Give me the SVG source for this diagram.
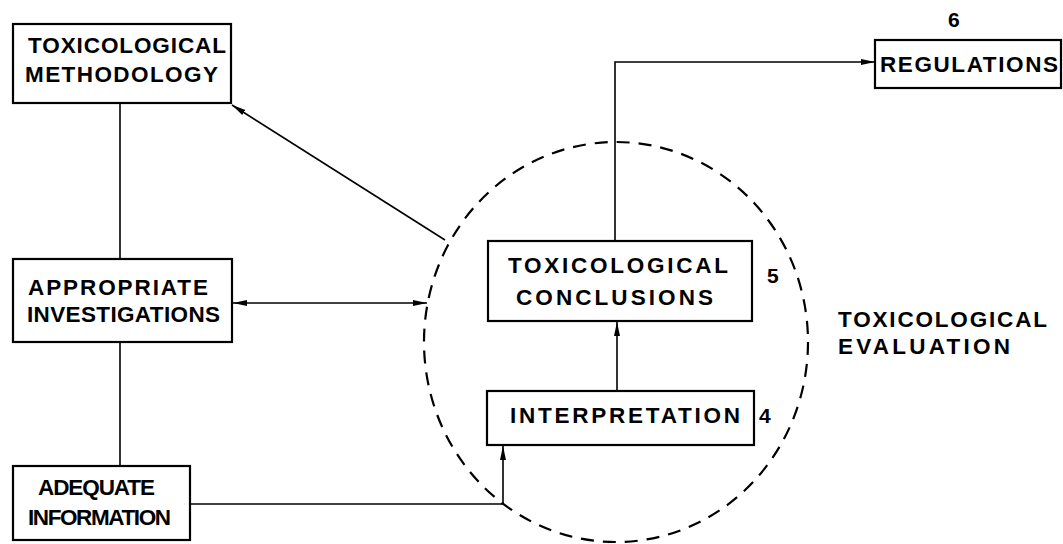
<svg xmlns="http://www.w3.org/2000/svg" width="1063" height="544" viewBox="0 0 1063 544">
  <style>
    .box { fill: #fff; stroke: #000; stroke-width: 2.2; }
    .lbl { font-family: "Liberation Sans", Arial, sans-serif; font-weight: bold; font-size: 22.5px; fill: #000; }
    .num { font-family: "Liberation Sans", Arial, sans-serif; font-weight: bold; font-size: 21px; fill: #000; }
    .wire { fill: none; stroke: #000; stroke-width: 1.6; }
    .ring { fill: none; stroke: #000; stroke-width: 2.2; stroke-dasharray: 13 9; }
  </style>
  <defs>
    <marker id="arrow" viewBox="0 0 14 8" refX="14" refY="4" markerWidth="14" markerHeight="8" markerUnits="userSpaceOnUse" orient="auto-start-reverse">
      <path d="M0,1 L14,4 L0,7 Z" fill="#000"/>
    </marker>
  </defs>
  <rect width="1063" height="544" fill="#fff"/>

  <!-- evaluation boundary -->
  <ellipse class="ring" cx="616" cy="342" rx="192" ry="200"/>

  <g id="connectors">
    <line class="wire" x1="120" y1="103" x2="120" y2="259"/>
    <line class="wire" x1="120" y1="342" x2="120" y2="466"/>
    <line class="wire" x1="445" y1="240" x2="232" y2="105" marker-end="url(#arrow)"/>
    <line class="wire" x1="233" y1="303" x2="427" y2="303" marker-start="url(#arrow)" marker-end="url(#arrow)"/>
    <polyline class="wire" points="190,504 503,504 503,446" marker-end="url(#arrow)"/>
    <line class="wire" x1="617" y1="391" x2="617" y2="322" marker-end="url(#arrow)"/>
    <polyline class="wire" points="615,241 615,62 875,62" marker-end="url(#arrow)"/>
  </g>

  <g id="methodology">
    <rect class="box" x="13" y="24" width="218" height="79"/>
    <text class="lbl" x="28" y="53" textLength="198" lengthAdjust="spacing">TOXICOLOGICAL</text>
    <text class="lbl" x="25" y="82" textLength="193" lengthAdjust="spacing">METHODOLOGY</text>
  </g>

  <g id="investigations">
    <rect class="box" x="13" y="259" width="219" height="83"/>
    <text class="lbl" x="28" y="295" textLength="180" lengthAdjust="spacing">APPROPRIATE</text>
    <text class="lbl" x="27" y="322" textLength="193" lengthAdjust="spacing">INVESTIGATIONS</text>
  </g>

  <g id="information">
    <rect class="box" x="13" y="466" width="177" height="74"/>
    <text class="lbl" x="38" y="495" textLength="117" lengthAdjust="spacing">ADEQUATE</text>
    <text class="lbl" x="28" y="525" textLength="143" lengthAdjust="spacing">INFORMATION</text>
  </g>

  <g id="conclusions">
    <rect class="box" x="488" y="241" width="264" height="80"/>
    <text class="lbl" x="508" y="273" textLength="220" lengthAdjust="spacing">TOXICOLOGICAL</text>
    <text class="lbl" x="516" y="305" textLength="197" lengthAdjust="spacing">CONCLUSIONS</text>
    <text class="num" x="767" y="283">5</text>
  </g>

  <g id="interpretation">
    <rect class="box" x="487" y="391" width="267" height="54"/>
    <text class="lbl" x="510" y="423" textLength="230" lengthAdjust="spacing">INTERPRETATION</text>
    <text class="num" x="759" y="423">4</text>
  </g>

  <g id="regulations">
    <rect class="box" x="875" y="40" width="186" height="48"/>
    <text class="lbl" x="880" y="72" textLength="178" lengthAdjust="spacing">REGULATIONS</text>
    <text class="num" x="948" y="27">6</text>
  </g>

  <g id="evaluation">
    <text class="lbl" x="838" y="327" textLength="209" lengthAdjust="spacing">TOXICOLOGICAL</text>
    <text class="lbl" x="838" y="354" textLength="172" lengthAdjust="spacing">EVALUATION</text>
  </g>
</svg>
